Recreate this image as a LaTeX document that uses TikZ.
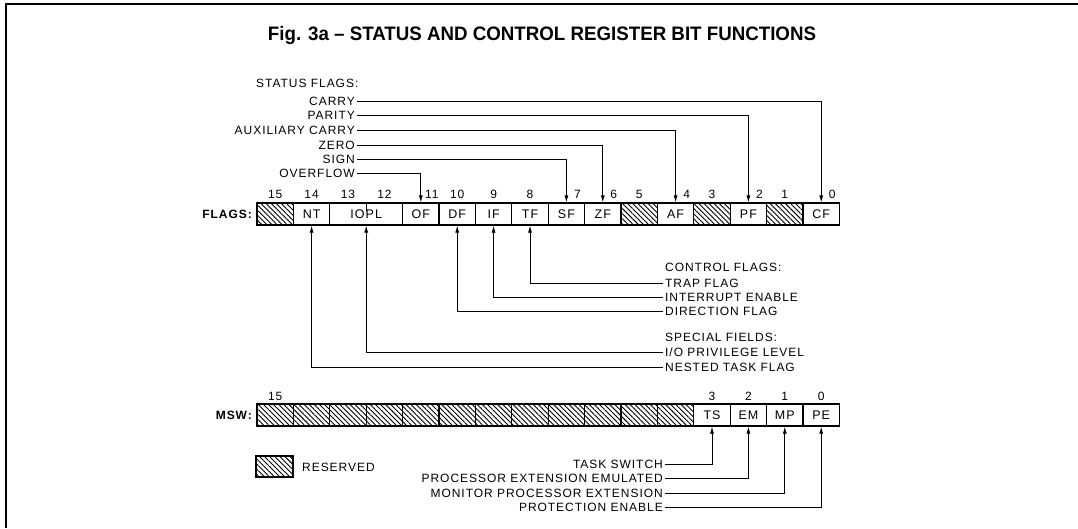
\documentclass[tikz,border=0pt]{standalone}
\usepackage{fontspec}
\setmainfont[LetterSpace=8]{Liberation Sans}
\newfontfamily\titlefont[FakeStretch=0.96]{Liberation Sans}
\usetikzlibrary{arrows.meta,patterns.meta}

\begin{document}
\begin{tikzpicture}[
  x=1pt, y=-1pt,
  font=\fontsize{12}{14}\selectfont,
  cell/.style={draw, line width=1.3pt, minimum width=36.4pt, minimum height=22pt, inner sep=0pt, font=\fontsize{12.5}{14}\selectfont},
  resv/.style={cell, pattern={Lines[angle=-45,distance=3.6pt,line width=0.9pt]}},
  lbl/.style={inner sep=2pt},
  num/.style={inner sep=0pt},
  regname/.style={font=\fontsize{12}{14}\selectfont\bfseries, anchor=east, inner sep=0pt},
  link/.style={line width=0.8pt, -{Latex[length=7pt,width=4pt]}},
]
  \useasboundingbox (0,0) rectangle (1078,528);
  \def\xl{257}  % left edge of both registers
  \def\cw{36.4} % width of one bit
  \def\yf{214}  % FLAGS row
  \def\ym{415}  % MSW row

  % frame and title
  \draw[line width=1.5pt] (1078,4) -- (6,4) -- (6,528);
  \node[font=\titlefont\fontsize{19.5}{22}\selectfont\bfseries] (title) at (542,35)
    {Fig. 3a – STATUS AND CONTROL REGISTER BIT FUNCTIONS};

  % FLAGS register
  \node[regname] (flagsname) at (252,\yf) {FLAGS:};
  \foreach \b/\n in {14/NT,11/OF,10/DF,9/IF,8/TF,7/SF,6/ZF,4/AF,2/PF,0/CF}
    \node[cell] (f\n) at ({\xl+(15.5-\b)*\cw},\yf) {\n};
  \foreach \b in {15,5,3,1}
    \node[resv] (fr\b) at ({\xl+(15.5-\b)*\cw},\yf) {};
  \node[cell, minimum width=72.8pt] (fIOPL) at ({\xl+3*\cw},\yf) {IOPL};
  \draw[line width=0.8pt] (fIOPL.north) -- ++(0,9);
  \foreach \b in {15,14,13,12,10,9,8,5,3,1}
    \node[num] (fn\b) at ({\xl+(15.5-\b)*\cw},194) {\b};
  \foreach \b in {11,7,6,4,2,0}
    \node[num] (fn\b) at ({\xl+(15.5-\b)*\cw+11},194) {\b};

  % status flags
  \node[lbl, anchor=west] (stat) at (254,83) {STATUS FLAGS:};
  \node[lbl, anchor=east] (carry) at (357,101) {CARRY};
  \node[lbl, anchor=east] (parity) at (357,115) {PARITY};
  \node[lbl, anchor=east] (auxc) at (357,130) {AUXILIARY CARRY};
  \node[lbl, anchor=east] (zero) at (357,145) {ZERO};
  \node[lbl, anchor=east] (sign) at (357,159) {SIGN};
  \node[lbl, anchor=east] (ovfl) at (357,173) {OVERFLOW};
  \draw[link] (carry.east) -| (fCF.north);
  \draw[link] (parity.east) -| (fPF.north);
  \draw[link] (auxc.east) -| (fAF.north);
  \draw[link] (zero.east) -| (fZF.north);
  \draw[link] (sign.east) -| (fSF.north);
  \draw[link] (ovfl.east) -| (fOF.north);

  % control flags and special fields
  \node[lbl, anchor=west] (ctrl) at (663,267) {CONTROL FLAGS:};
  \node[lbl, anchor=west] (trap) at (663,283) {TRAP FLAG};
  \node[lbl, anchor=west] (intr) at (663,297) {INTERRUPT ENABLE};
  \node[lbl, anchor=west] (dirf) at (663,311) {DIRECTION FLAG};
  \node[lbl, anchor=west] (spec) at (663,337) {SPECIAL FIELDS:};
  \node[lbl, anchor=west] (iopriv) at (663,352) {I/O PRIVILEGE LEVEL};
  \node[lbl, anchor=west] (nested) at (663,367) {NESTED TASK FLAG};
  \draw[link] (trap.west) -| (fTF.south);
  \draw[link] (intr.west) -| (fIF.south);
  \draw[link] (dirf.west) -| (fDF.south);
  \draw[link] (iopriv.west) -| (fIOPL.south);
  \draw[link] (nested.west) -| (fNT.south);

  % MSW register
  \node[regname] (mswname) at (252,\ym) {MSW:};
  \foreach \b in {15,...,4}
    \node[resv] (mr\b) at ({\xl+(15.5-\b)*\cw},\ym) {};
  \foreach \b/\n in {3/TS,2/EM,1/MP,0/PE}
    \node[cell] (m\n) at ({\xl+(15.5-\b)*\cw},\ym) {\n};
  \foreach \b in {15,3,2,1,0}
    \node[num] (mn\b) at ({\xl+(15.5-\b)*\cw},396) {\b};

  \node[lbl, anchor=east] (tsw) at (665,464) {TASK SWITCH};
  \node[lbl, anchor=east] (pexe) at (665,478) {PROCESSOR EXTENSION EMULATED};
  \node[lbl, anchor=east] (mpex) at (665,493) {MONITOR PROCESSOR EXTENSION};
  \node[lbl, anchor=east] (prot) at (665,507) {PROTECTION ENABLE};
  \draw[link] (tsw.east) -| (mTS.south);
  \draw[link] (pexe.east) -| (mEM.south);
  \draw[link] (mpex.east) -| (mMP.south);
  \draw[link] (prot.east) -| (mPE.south);

  % legend
  \node[resv, minimum width=37pt, minimum height=21pt] (key) at (274.5,466.5) {};
  \node[lbl, anchor=west] (keytxt) at (300,467) {RESERVED};
\end{tikzpicture}
\end{document}
